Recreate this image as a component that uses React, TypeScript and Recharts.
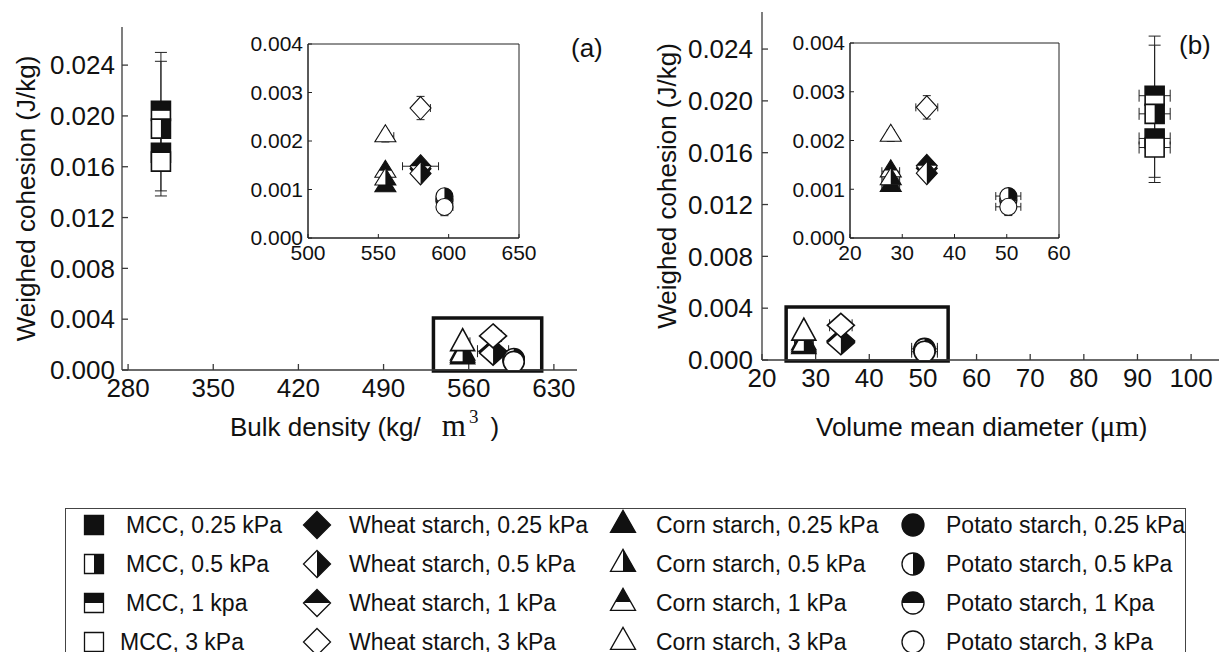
import React from "react";
import {
  ScatterChart,
  Scatter,
  XAxis,
  YAxis,
  ErrorBar,
  ReferenceArea,
} from "recharts";

// ---- data ----
const materials = ["MCC", "Wheat starch", "Corn starch", "Potato starch"];
const pressures = ["0.25 kPa", "0.5 kPa", "1 kPa", "3 kPa"];
const legendLabels = [
  ["MCC, 0.25 kPa", "MCC, 0.5 kPa", "MCC, 1 kpa", "MCC, 3 kPa"],
  ["Wheat starch, 0.25 kPa", "Wheat starch, 0.5 kPa", "Wheat starch, 1 kPa", "Wheat starch, 3 kPa"],
  ["Corn starch, 0.25 kPa", "Corn starch, 0.5 kPa", "Corn starch, 1 kPa", "Corn starch, 3 kPa"],
  ["Potato starch, 0.25 kPa", "Potato starch, 0.5 kPa", "Potato starch, 1 Kpa", "Potato starch, 3 kPa"],
];

// one x value per material
const bulkDensity = [307, 580, 555, 597]; // kg/m3
const meanDiameter = [93.2, 34.7, 27.8, 50.3]; // um

// weighed cohesion (J/kg), per pressure 0.25 / 0.5 / 1 / 3 kPa
const cohesionMCC = [0.0171, 0.019, 0.0204, 0.0164];
const cohesionWheat = [0.00143, 0.00133, 0.00148, 0.00268];
const cohesionCorn = [0.00107, 0.00121, 0.00137, 0.0021];
const cohesionPotato = [0.00076, 0.00086, 0.0008, 0.00064];

const cohesionErrMCC = [0.003, 0.0053, 0.0046, 0.0006];
const cohesionErrWheat = [0.0001, 0.0001, 0.0001, 0.00024];
const cohesionErrCorn = [0.00008, 0.0001, 0.0001, 0.00012];
const cohesionErrPotato = [0.0001, 0.00012, 0.0001, 0.00018];

// bulk density error bars [minus, plus]
const densityErrMCC = [[0, 0], [0, 0], [0, 0], [0, 0]];
const densityErrWheat = [[0, 0], [0, 0], [12.8, 12.8], [0, 7]];
const densityErrCorn = [[0, 0], [0, 0], [0, 0], [0, 6]];
const densityErrPotato = [[0, 0], [0, 0], [0, 0], [0, 6]];

// diameter error bars
const diameterErrMCC = [2.9, 2.9, 2.9, 2.9];
const diameterErrWheat = [0, 0, 0, 2.1];
const diameterErrCorn = [1.7, 1.7, 1.7, 0];
const diameterErrPotato = [0, 2.4, 0, 2.4];

const cohesionTicks = [0, 0.004, 0.008, 0.012, 0.016, 0.02, 0.024];
const cohesionTicksInset = [0, 0.001, 0.002, 0.003, 0.004];
const densityTicks = [280, 350, 420, 490, 560, 630];
const densityTicksInset = [500, 550, 600, 650];
const diameterTicks = [20, 30, 40, 50, 60, 70, 80, 90, 100];
const diameterTicksInset = [20, 30, 40, 50, 60];

// the thick frames marking the zoomed region
const zoomBoxDensity = [531, 620];
const zoomBoxDiameter = [24.5, 54.7];
const zoomBoxCohesion = [-0.00008, 0.0041];

const cohesion = [cohesionMCC, cohesionWheat, cohesionCorn, cohesionPotato];
const cohesionErr = [cohesionErrMCC, cohesionErrWheat, cohesionErrCorn, cohesionErrPotato];
const densityErr = [densityErrMCC, densityErrWheat, densityErrCorn, densityErrPotato];
const diameterErr = [diameterErrMCC, diameterErrWheat, diameterErrCorn, diameterErrPotato];

// ---- styling ----
const FONT = "'Liberation Sans', Arial, sans-serif";
const SERIF = "'Liberation Serif', 'Times New Roman', serif";
const INK = "#111";

type Kind = "square" | "diamond" | "triangle" | "circle";
type Fill = "full" | "right" | "top" | "none";
const kinds: Kind[] = ["square", "diamond", "triangle", "circle"];
const fills: Fill[] = ["full", "right", "top", "none"];
const drawOrder = [0, 2, 1, 3];

type Sz = { w: number; h: number };
const mainSizes: Sz[] = [
  { w: 19, h: 19 },
  { w: 27, h: 24 },
  { w: 24, h: 22 },
  { w: 21, h: 21 },
];
const insetSizes: Sz[] = [
  { w: 16, h: 16 },
  { w: 21, h: 23 },
  { w: 21, h: 17 },
  { w: 17, h: 17 },
];
const legendSizes: Sz[] = [
  { w: 19, h: 19 },
  { w: 27, h: 27 },
  { w: 25, h: 22 },
  { w: 22, h: 22 },
];

function Marker({ cx, cy, kind, fill, w, h, sw }: {
  cx: number; cy: number; kind: Kind; fill: Fill; w: number; h: number; sw: number;
}) {
  if (cx == null || cy == null) return null;
  const l = cx - w / 2;
  const r = cx + w / 2;
  let outline = "";
  let part = "";
  if (kind === "square") {
    const t = cy - h / 2, b = cy + h / 2;
    outline = `M${l},${t}H${r}V${b}H${l}Z`;
    part = fill === "right" ? `M${cx},${t}H${r}V${b}H${cx}Z`
      : fill === "top" ? `M${l},${t}H${r}V${cy}H${l}Z` : outline;
  } else if (kind === "diamond") {
    const t = cy - h / 2, b = cy + h / 2;
    outline = `M${cx},${t}L${r},${cy}L${cx},${b}L${l},${cy}Z`;
    part = fill === "right" ? `M${cx},${t}L${r},${cy}L${cx},${b}Z`
      : fill === "top" ? `M${l},${cy}L${cx},${t}L${r},${cy}Z` : outline;
  } else if (kind === "triangle") {
    const t = cy - (2 * h) / 3, b = cy + h / 3;
    outline = `M${cx},${t}L${r},${b}L${l},${b}Z`;
    const f = 0.62;
    const ys = t + f * h;
    const hw = (f * w) / 2;
    part = fill === "right" ? `M${cx},${t}L${r},${b}L${cx},${b}Z`
      : fill === "top" ? `M${cx},${t}L${cx + hw},${ys}L${cx - hw},${ys}Z` : outline;
  } else {
    const rr = w / 2;
    outline = `M${cx - rr},${cy}A${rr},${rr} 0 1 1 ${cx + rr},${cy}A${rr},${rr} 0 1 1 ${cx - rr},${cy}Z`;
    part = fill === "right" ? `M${cx},${cy - rr}A${rr},${rr} 0 0 1 ${cx},${cy + rr}Z`
      : fill === "top" ? `M${cx - rr},${cy}A${rr},${rr} 0 0 1 ${cx + rr},${cy}Z` : outline;
  }
  return (
    <g>
      <path d={outline} fill="#fff" />
      {fill !== "none" && <path d={part} fill={INK} />}
      <path d={outline} fill="none" stroke={INK} strokeWidth={sw} />
    </g>
  );
}

const Empty = () => <g />;

type Axis = "density" | "diameter";
function point(axis: Axis, m: number, p: number) {
  return {
    x: axis === "density" ? bulkDensity[m] : meanDiameter[m],
    y: cohesion[m][p],
    ey: cohesionErr[m][p],
    ex: axis === "density" ? densityErr[m][p] : diameterErr[m][p],
  };
}

function hasXErr(axis: Axis, m: number, p: number) {
  const e = axis === "density" ? densityErr[m][p] : diameterErr[m][p];
  return Array.isArray(e) ? e[0] + e[1] > 0 : e > 0;
}

const makeYTitle = (dx: number) => (p: any) => {
  const vb = p.viewBox || { x: 0, y: 0, height: 0 };
  const x = vb.x + dx;
  const y = vb.y + vb.height / 2;
  return (
    <text x={x} y={y} transform={`rotate(-90, ${x}, ${y})`} textAnchor="middle"
      dominantBaseline="central" fontFamily={FONT} fontSize={26} fill={INK}>
      Weighed cohesion (J/kg)
    </text>
  );
};

const BulkTitle = (p: any) => {
  const vb = p.viewBox || { x: 0, y: 0 };
  return (
    <text x={vb.x + 108} y={vb.y + 66} fontFamily={FONT} fontSize={26} fill={INK}>
      Bulk density (kg/
      <tspan dx={21} fontFamily={SERIF} fontSize={31}>m</tspan>
      <tspan dx={3} dy={-13} fontFamily={SERIF} fontSize={19}>3</tspan>
      <tspan dx={12} dy={13}>)</tspan>
    </text>
  );
};

const DiameterTitle = (p: any) => {
  const vb = p.viewBox || { x: 0, y: 0 };
  return (
    <text x={vb.x + 54} y={vb.y + 76} fontFamily={FONT} fontSize={26} fill={INK}>
      Volume mean diameter (
      <tspan fontFamily={SERIF} fontSize={30}>μm</tspan>
      <tspan>)</tspan>
    </text>
  );
};

type PanelProps = {
  axis: Axis;
  width: number;
  height: number;
  margin: { top: number; right: number; bottom: number; left: number };
  yWidth: number;
  xHeight: number;
  xDomain: number[];
  xTicks: number[];
  yDomain: number[];
  yTicks: number[];
  shown: number[];
  sizes: Sz[];
  fontSize: number;
  tickLen: number;
  xTickMargin: number;
  yTickMargin: number;
  sw: number;
  cap: number;
  axisColor: string;
  axisWidth: number;
  frame?: boolean;
  zoomBox?: number[];
  xTitle?: any;
  yTitle?: any;
};

function Panel(pp: PanelProps) {
  const axisLine = { stroke: pp.axisColor, strokeWidth: pp.axisWidth };
  const tick = { fontSize: pp.fontSize, fill: INK, fontFamily: FONT };
  const yErrPts: any[] = [];
  const xErrPts: any[] = [];
  pp.shown.forEach((m) =>
    drawOrder.forEach((p) => {
      yErrPts.push(point(pp.axis, m, p));
      if (hasXErr(pp.axis, m, p)) xErrPts.push(point(pp.axis, m, p));
    })
  );
  return (
    <ScatterChart width={pp.width} height={pp.height} margin={pp.margin}>
      <XAxis
        type="number"
        dataKey="x"
        domain={pp.xDomain}
        ticks={pp.xTicks}
        interval={0}
        allowDataOverflow
        height={pp.xHeight}
        tickSize={-pp.tickLen}
        tickMargin={pp.xTickMargin}
        axisLine={axisLine}
        tickLine={axisLine}
        tick={tick}
        label={pp.xTitle}
      />
      <YAxis
        type="number"
        dataKey="y"
        domain={pp.yDomain}
        ticks={pp.yTicks}
        interval={0}
        allowDataOverflow
        width={pp.yWidth}
        tickSize={-pp.tickLen}
        tickMargin={pp.yTickMargin}
        tickFormatter={(v: number) => v.toFixed(3)}
        axisLine={axisLine}
        tickLine={axisLine}
        tick={tick}
        label={pp.yTitle}
      />
      {pp.frame && (
        <ReferenceArea
          x1={pp.xDomain[0]}
          x2={pp.xDomain[1]}
          y1={pp.yDomain[0]}
          y2={pp.yDomain[1]}
          fill="none"
          stroke={pp.axisColor}
          strokeWidth={pp.axisWidth}
          ifOverflow="visible"
        />
      )}
      {pp.zoomBox && (
        <ReferenceArea
          x1={pp.zoomBox[0]}
          x2={pp.zoomBox[1]}
          y1={zoomBoxCohesion[0]}
          y2={zoomBoxCohesion[1]}
          fill="none"
          stroke={INK}
          strokeWidth={3.5}
          ifOverflow="visible"
        />
      )}
      {pp.shown.map((m) =>
        drawOrder.map((p) => (
          <Scatter
            key={`${materials[m]}-${pressures[p]}`}
            name={legendLabels[m][p]}
            data={[point(pp.axis, m, p)]}
            isAnimationActive={false}
            legendType="none"
            shape={(s: any) => (
              <Marker cx={s.cx} cy={s.cy} kind={kinds[m]} fill={fills[p]}
                w={pp.sizes[m].w} h={pp.sizes[m].h} sw={pp.sw} />
            )}
          />
        ))
      )}
      <Scatter data={yErrPts} isAnimationActive={false} legendType="none" shape={Empty}>
        <ErrorBar dataKey="ey" direction="y" width={pp.cap} stroke="#222" strokeWidth={1} isAnimationActive={false} />
      </Scatter>
      <Scatter data={xErrPts} isAnimationActive={false} legendType="none" shape={Empty}>
        <ErrorBar dataKey="ex" direction="x" width={pp.cap} stroke="#222" strokeWidth={1} isAnimationActive={false} />
      </Scatter>
    </ScatterChart>
  );
}

function Legend() {
  const rowY = [25, 64, 103, 142];
  const markerX = [94, 317, 623, 913];
  const textX = [126, 349, 656, 946];
  return (
    <svg width={1222} height={152} style={{ position: "absolute", left: 0, top: 500 }}>
      <rect x={65.5} y={8.5} width={1120} height={200} fill="none" stroke="#444" strokeWidth={1} />
      {materials.map((mat, m) =>
        pressures.map((pr, p) => (
          <g key={`${mat}-${pr}`}>
            <Marker cx={markerX[m]} cy={rowY[p]} kind={kinds[m]} fill={fills[p]}
              w={legendSizes[m].w} h={legendSizes[m].h} sw={1.3} />
            <text x={textX[m] - (m === 0 && p === 3 ? 6 : 0)} y={rowY[p]} dominantBaseline="central"
              fontFamily={FONT} fontSize={23} fill={INK}>
              {legendLabels[m][p]}
            </text>
          </g>
        ))
      )}
    </svg>
  );
}

const panelTag = { position: "absolute" as const, fontFamily: FONT, fontSize: 26, lineHeight: "26px", color: INK };

export default function App() {
  return (
    <div style={{ position: "absolute", left: 0, top: 0, width: 1222, height: 652, background: "#fff", overflow: "hidden" }}>
      <div style={{ position: "absolute", left: 0, top: 0 }}>
        <Panel
          axis="density"
          width={610}
          height={450}
          margin={{ top: 27, right: 33, bottom: 0, left: 0 }}
          yWidth={122}
          xHeight={80}
          xDomain={[275, 649]}
          xTicks={densityTicks}
          yDomain={[0, 0.027]}
          yTicks={cohesionTicks}
          shown={[0, 1, 2, 3]}
          sizes={mainSizes}
          fontSize={26}
          tickLen={6}
          xTickMargin={15}
          yTickMargin={13}
          sw={1.6}
          cap={6}
          axisColor="#3a3a3a"
          axisWidth={1.3}
          zoomBox={zoomBoxDensity}
          xTitle={BulkTitle}
          yTitle={makeYTitle(26)}
        />
      </div>
      <div style={{ position: "absolute", left: 610, top: 0 }}>
        <Panel
          axis="diameter"
          width={612}
          height={450}
          margin={{ top: 12, right: 3, bottom: 0, left: 0 }}
          yWidth={152}
          xHeight={90}
          xDomain={[20, 105.2]}
          xTicks={diameterTicks}
          yDomain={[0, 0.02686]}
          yTicks={cohesionTicks}
          shown={[0, 1, 2, 3]}
          sizes={mainSizes}
          fontSize={26}
          tickLen={6}
          xTickMargin={15}
          yTickMargin={15}
          sw={1.6}
          cap={6}
          axisColor="#3a3a3a"
          axisWidth={1.3}
          zoomBox={zoomBoxDiameter}
          xTitle={DiameterTitle}
          yTitle={makeYTitle(57)}
        />
      </div>
      <div style={{ position: "absolute", left: 240, top: 20 }}>
        <Panel
          axis="density"
          width={300}
          height={260}
          margin={{ top: 24, right: 21, bottom: 0, left: 0 }}
          yWidth={68}
          xHeight={42}
          xDomain={[500, 650]}
          xTicks={densityTicksInset}
          yDomain={[0, 0.004]}
          yTicks={cohesionTicksInset}
          shown={[1, 2, 3]}
          sizes={insetSizes}
          fontSize={21}
          tickLen={4}
          xTickMargin={11}
          yTickMargin={9}
          sw={1.1}
          cap={4}
          axisColor="#222"
          axisWidth={1}
          frame
        />
      </div>
      <div style={{ position: "absolute", left: 780, top: 20 }}>
        <Panel
          axis="diameter"
          width={300}
          height={260}
          margin={{ top: 23, right: 21, bottom: 0, left: 0 }}
          yWidth={70}
          xHeight={42}
          xDomain={[20, 60]}
          xTicks={diameterTicksInset}
          yDomain={[0, 0.004]}
          yTicks={cohesionTicksInset}
          shown={[1, 2, 3]}
          sizes={insetSizes}
          fontSize={21}
          tickLen={4}
          xTickMargin={11}
          yTickMargin={9}
          sw={1.1}
          cap={4}
          axisColor="#222"
          axisWidth={1}
          frame
        />
      </div>
      <div style={{ ...panelTag, left: 571, top: 35 }}>(a)</div>
      <div style={{ ...panelTag, left: 1179, top: 32 }}>(b)</div>
      <Legend />
    </div>
  );
}
